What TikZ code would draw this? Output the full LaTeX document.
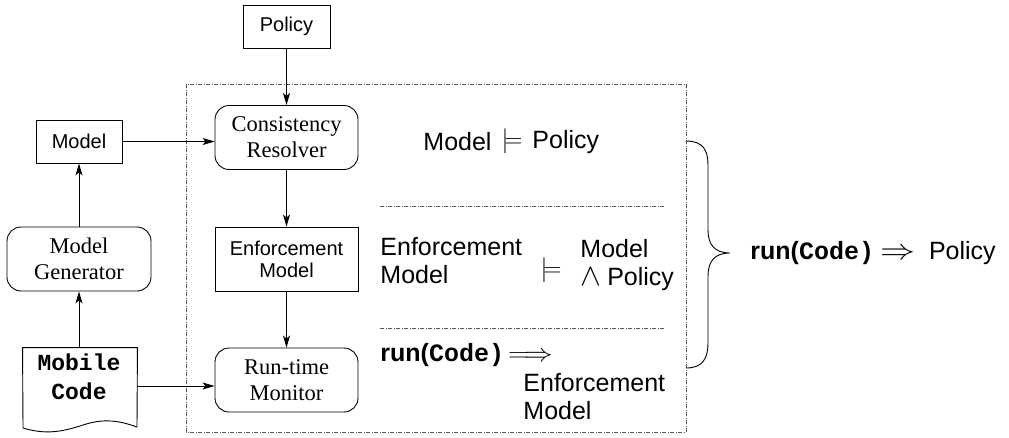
\RequirePackage{fix-cm}
\documentclass[tikz,border=0pt]{standalone}
\usepackage{fontspec}
\setmainfont{Liberation Serif}
\setsansfont{Liberation Sans}
\setmonofont{Liberation Mono}
\usetikzlibrary{arrows.meta}
\begin{document}
\begin{tikzpicture}[x=1pt,y=-1pt,
  line width=0.9pt,
  arr/.style={-{Stealth[length=12pt,width=7pt,inset=3pt]}},
  sbox/.style={draw,minimum width=#1,inner sep=0pt,align=center,font=\sffamily\fontsize{20}{22}\selectfont},
  rbox/.style={draw,rounded corners=14pt,minimum width=143pt,minimum height=64pt,inner sep=0pt,align=center,font=\rmfamily\fontsize{22.5}{26}\selectfont},
  big/.style={inner sep=0pt,font=\sffamily\fontsize{25}{28}\selectfont,align=left},
  dd/.style={line width=0.7pt,black!65,dash pattern=on 4pt off 1.5pt on 1pt off 1.5pt}
]
\useasboundingbox (0,0) rectangle (1009,437);
% frame
\draw[dd] (186,84) rectangle (686,432);
\draw[dd] (380,206) -- (665,206);
\draw[dd] (380,328) -- (665,328);
% nodes
\node[sbox=87pt,minimum height=43pt] (policy) at (286.5,26.5) {Policy};
\node[sbox=86pt,minimum height=43pt] (model) at (79,141.5) {Model};
\node[rbox] (cr) at (286.5,137.5) {Consistency\\Resolver};
\node[rbox,minimum width=144pt] (mg) at (79,259) {Model\\Generator};
\node[sbox=143pt,minimum height=64pt] (em) at (286.5,259) {Enforcement\\Model};
\node[rbox] (rm) at (286.5,380) {Run-time\\Monitor};
% mobile code document
\node[minimum width=114pt,minimum height=76pt,inner sep=0pt] (code) at (80,386) {};
\draw (code.north west) -- (code.north east) -- (137,427)
  .. controls (115,419) and (100,419) .. (80,426)
  .. controls (55,434) and (40,433) .. (23,428) -- cycle;
\node[inner sep=0pt,align=center,font=\ttfamily\bfseries\fontsize{23}{29}\selectfont] (codetxt) at (79,377) {Mobile\\Code};
% connectors
\draw[arr] (policy.south) -- (cr.north);
\draw[arr] (model.east) -- (model.east -| cr.west);
\draw[arr] (cr.south) -- (em.north);
\draw[arr] (em.south) -- (rm.north);
\draw[arr] (code.east) -- (code.east -| rm.west);
\draw[arr] (code.north -| mg.south) -- (mg.south);
\draw[arr] (mg.north) -- (model.south);
% formulas
\node[big,anchor=west] (f1a) at (423,142) {Model};
\node[big] (f1b) at (512,141) {$\models$};
\node[big,anchor=west] (f1c) at (532,142) {Policy};
\node[big,anchor=west] (f2a) at (380,261) {Enforcement\\Model};
\node[big] (f2b) at (551,270) {$\models$};
\node[big,anchor=west] (f2c) at (580,265) {Model\\\scalebox{1.25}{$\wedge$}\hspace{6pt}Policy};
\node[big,anchor=west] (f3a) at (380,355) {\textbf{run(}{\ttfamily\bfseries Code)}\,\scalebox{1.15}[1]{$\Longrightarrow$}};
\node[big,anchor=west] (f3b) at (523,397) {Enforcement\\Model};
% brace
\draw (686,141) .. controls (703,141) and (708,150) .. (708,165) -- (708,230)
  .. controls (708,245) and (715,253) .. (730,253)
  .. controls (715,253) and (708,261) .. (708,276) -- (708,343)
  .. controls (708,358) and (703,368) .. (686,368);
\node[big,anchor=west] (res) at (750,253) {\textbf{run(}{\ttfamily\bfseries Code)}\hspace{6pt}\scalebox{1.4}[1.15]{$\Rightarrow$}\hspace{14pt}Policy};
\end{tikzpicture}
\end{document}
